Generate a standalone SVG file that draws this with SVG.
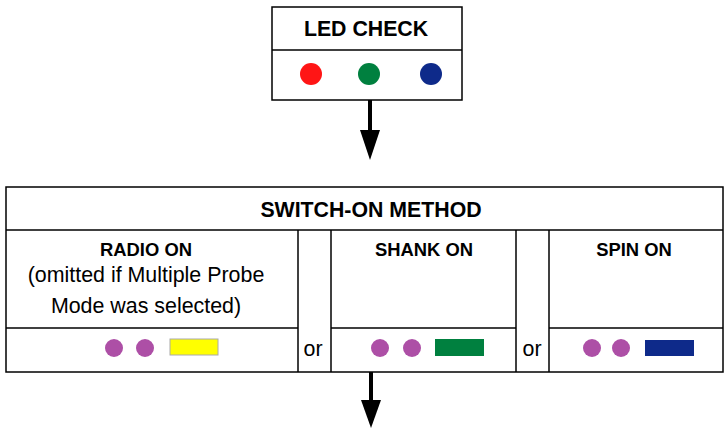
<svg xmlns="http://www.w3.org/2000/svg" width="726" height="428" viewBox="0 0 726 428">
<style>
.box{fill:#fff;stroke:#000;stroke-width:1.5}
.ln{stroke:#000;stroke-width:1.5;fill:none}
.b{font-family:"Liberation Sans",Arial,sans-serif;font-weight:bold;font-size:18.4px;text-anchor:middle;fill:#000}
.h{font-family:"Liberation Sans",Arial,sans-serif;font-weight:bold;font-size:21.3px;text-anchor:middle;fill:#000}
.t{font-family:"Liberation Sans",Arial,sans-serif;font-size:21.4px;text-anchor:middle;fill:#000}
.p{fill:#ad4fa6}
.sh{stroke:#000;stroke-width:4}
</style>
<rect width="726" height="428" fill="#fff"/>
<g id="led-check">
<rect class="box" x="272" y="7" width="190" height="93"/>
<line class="ln" x1="272" y1="50" x2="462" y2="50"/>
<text class="h" x="366" y="36">LED CHECK</text>
<circle cx="311" cy="74" r="11" fill="#ff1515"/>
<circle cx="369" cy="74" r="11" fill="#00803f"/>
<circle cx="431" cy="74" r="11" fill="#0e2a8a"/>
</g>
<g id="switch-on-method">
<rect class="box" x="6" y="187" width="717" height="185"/>
<line class="ln" x1="6" y1="230" x2="723" y2="230"/>
<line class="ln" x1="298" y1="230" x2="298" y2="372"/>
<line class="ln" x1="331" y1="230" x2="331" y2="372"/>
<line class="ln" x1="516" y1="230" x2="516" y2="372"/>
<line class="ln" x1="549" y1="230" x2="549" y2="372"/>
<line class="ln" x1="6" y1="328" x2="298" y2="328"/>
<line class="ln" x1="331" y1="328" x2="516" y2="328"/>
<line class="ln" x1="549" y1="328" x2="723" y2="328"/>
<text class="h" x="371" y="217">SWITCH-ON METHOD</text>
<text class="b" x="146" y="256">RADIO ON</text>
<text class="t" x="146" y="282">(omitted if Multiple Probe</text>
<text class="t" x="146" y="313">Mode was selected)</text>
<text class="b" x="424" y="256">SHANK ON</text>
<text class="b" x="634" y="256">SPIN ON</text>
<text class="t" x="313" y="356">or</text>
<text class="t" x="532" y="356">or</text>
<circle class="p" cx="114" cy="348" r="9"/>
<circle class="p" cx="145" cy="348" r="9"/>
<rect x="170" y="339" width="48" height="16" fill="#ffff00" stroke="#aaa" stroke-width="1"/>
<circle class="p" cx="380" cy="348" r="9"/>
<circle class="p" cx="412" cy="348" r="9"/>
<rect x="435" y="339" width="49" height="17" fill="#00803f"/>
<circle class="p" cx="592" cy="348" r="9"/>
<circle class="p" cx="621" cy="348" r="9"/>
<rect x="645" y="340" width="49" height="16" fill="#0e2a8a"/>
</g>
<g id="connectors">
<line class="sh" x1="370" y1="100" x2="370" y2="132"/>
<polygon points="360,130 380,130 370,160"/>
<line class="sh" x1="371" y1="372" x2="371" y2="402"/>
<polygon points="361,400 381,400 371,428"/>
</g>
</svg>
